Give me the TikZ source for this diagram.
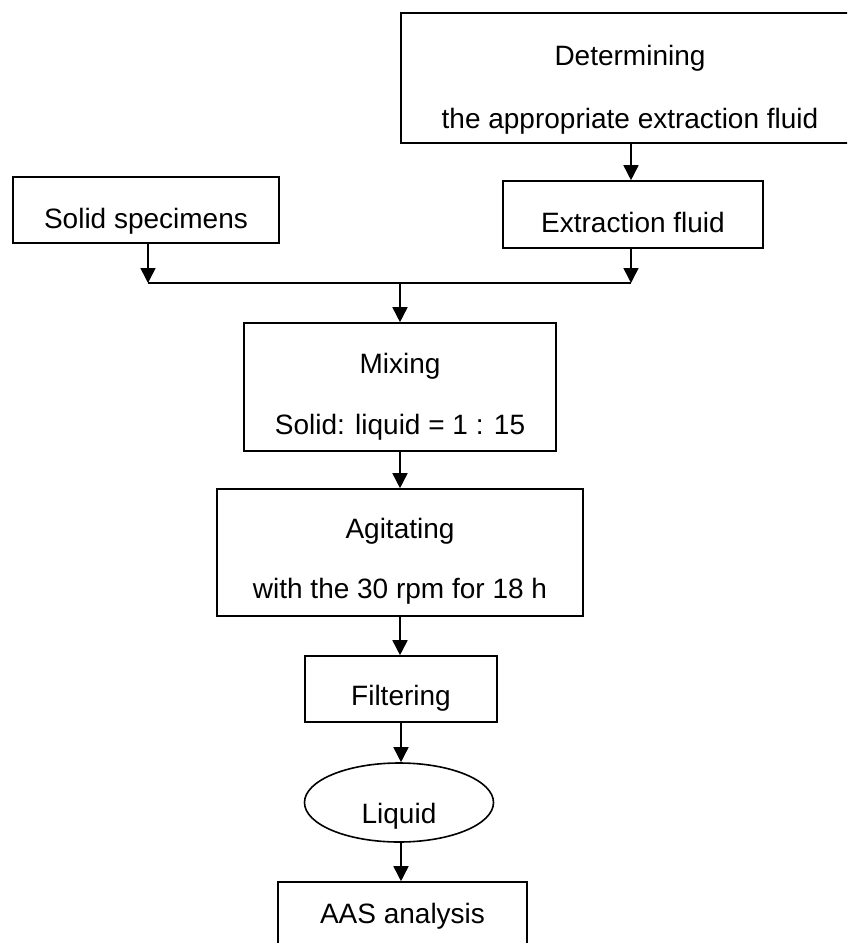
\documentclass[tikz,border=0pt]{standalone}
\usepackage{fontspec}
\setmainfont{Liberation Sans}
\usetikzlibrary{arrows.meta,shapes.geometric}
\begin{document}
\begin{tikzpicture}[x=1pt,y=-1pt,
  every node/.style={font=\fontsize{28}{32}\selectfont},
  box/.style={draw, line width=1.6pt, inner sep=0pt},
  oval/.style={draw, ellipse, line width=1.6pt, inner sep=0pt},
  txt/.style={inner sep=0pt, anchor=base},
  arr/.style={line width=1.6pt, -{Triangle[length=15pt,width=15pt]}},
  ln/.style={line width=1.6pt}]
\useasboundingbox (0,0) rectangle (847,943);
\begin{scope}
\clip (0,0) rectangle (847,943);
% top box
\node[box, minimum width=469pt, minimum height=130pt] (det) at (635.5,78) {};
\node[txt] (det1) at (630,65) {Determining};
\node[txt] (det2) at (630,128) {the appropriate extraction fluid};
% side boxes
\node[box, minimum width=266pt, minimum height=66pt] (sol) at (146,210) {};
\node[txt] (sol1) at (146,228) {Solid specimens};
\node[box, minimum width=260pt, minimum height=67pt] (ef) at (633,214.5) {};
\node[txt] (ef1) at (633,232) {Extraction fluid};
% mixing
\node[box, minimum width=312pt, minimum height=128pt] (mix) at (400,387) {};
\node[txt] (mix1) at (400,373) {Mixing};
\node[txt] (mix2) at (400,434) {Solid: liquid = 1 : 15};
% agitating
\node[box, minimum width=366pt, minimum height=127pt] (agi) at (400,552.5) {};
\node[txt] (agi1) at (400,538) {Agitating};
\node[txt] (agi2) at (400,598) {with the 30 rpm for 18 h};
% filtering
\node[box, minimum width=192pt, minimum height=66pt] (fil) at (401,689) {};
\node[txt] (fil1) at (401,705) {Filtering};
% liquid
\node[oval, minimum width=189pt, minimum height=79pt] (liq) at (399,802.5) {};
\node[txt] (liq1) at (399,823) {Liquid};
% AAS
\node[box, minimum width=249pt, minimum height=88pt] (aas) at (402.5,926) {};
\node[txt] (aas1) at (402.5,923) {AAS analysis};
% connectors
\coordinate (jl) at (148,283);
\coordinate (jr) at (631,283);
\coordinate (jm) at (400,283);
\draw[arr] (det.south -| jr) -- (ef.north -| jr);
\draw[arr] (sol.south -| jl) -- (jl);
\draw[arr] (ef.south -| jr) -- (jr);
\draw[ln] (jl) -- (jr);
\draw[arr] (jm) -- (mix.north);
\draw[arr] (mix.south) -- (agi.north);
\draw[arr] (agi.south) -- (agi.south |- fil.north);
\draw[arr] (fil.south -| 401,0) -- (liq.north -| 401,0);
\draw[arr] (liq.south -| 401,0) -- (aas.north -| 401,0);
\end{scope}
\end{tikzpicture}
\end{document}
